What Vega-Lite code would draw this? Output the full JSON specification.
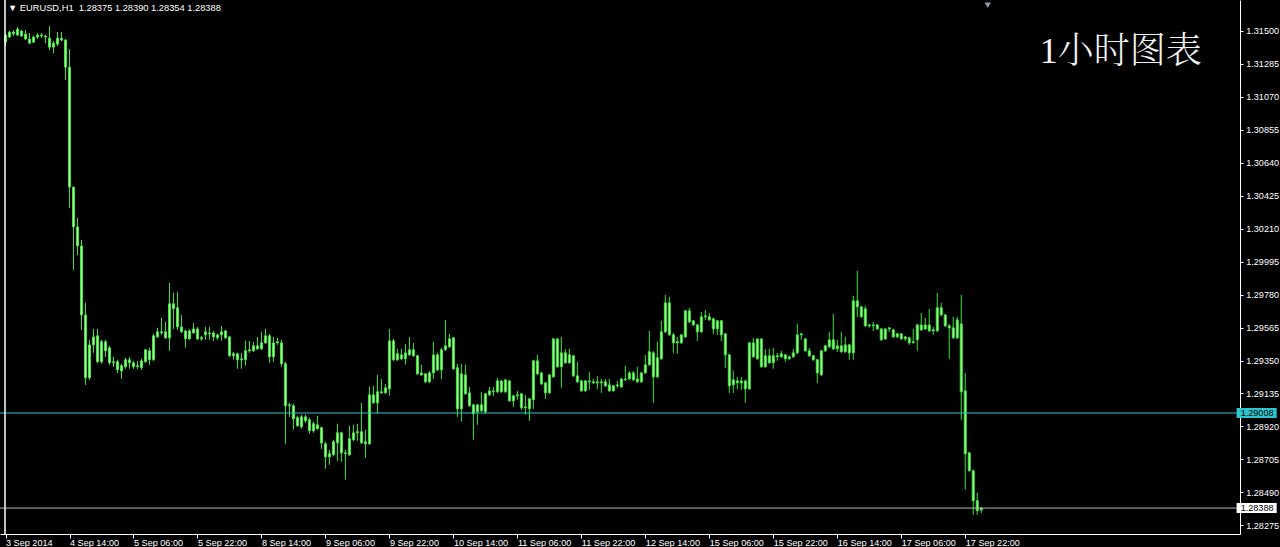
{
  "$schema": "https://vega.github.io/schema/vega-lite/v6.json",
  "width": 1240,
  "height": 534,
  "autosize": {"type": "none"},
  "padding": {"left": 0, "top": 0, "right": 45, "bottom": 18},
  "background": "#000000",
  "config": {"view": {"stroke": null}},
  "data": {"values": [
{"i":0,"t":"2014-09-03 22:00","o":1.31426,"h":1.31485,"l":1.31393,"c":1.31472},
{"i":1,"t":"2014-09-03 23:00","o":1.31459,"h":1.31498,"l":1.31452,"c":1.31492},
{"i":2,"t":"2014-09-04 00:00","o":1.31492,"h":1.31505,"l":1.31466,"c":1.31479},
{"i":3,"t":"2014-09-04 01:00","o":1.31472,"h":1.31524,"l":1.31466,"c":1.31511},
{"i":4,"t":"2014-09-04 02:00","o":1.31498,"h":1.31505,"l":1.31459,"c":1.31466},
{"i":5,"t":"2014-09-04 03:00","o":1.31479,"h":1.31505,"l":1.31439,"c":1.31446},
{"i":6,"t":"2014-09-04 04:00","o":1.31446,"h":1.31485,"l":1.31413,"c":1.31419},
{"i":7,"t":"2014-09-04 05:00","o":1.31426,"h":1.31466,"l":1.31419,"c":1.31459},
{"i":8,"t":"2014-09-04 06:00","o":1.31459,"h":1.31485,"l":1.31446,"c":1.31472},
{"i":9,"t":"2014-09-04 07:00","o":1.31472,"h":1.31485,"l":1.31452,"c":1.31466},
{"i":10,"t":"2014-09-04 08:00","o":1.31466,"h":1.31472,"l":1.31419,"c":1.31459},
{"i":11,"t":"2014-09-04 09:00","o":1.31452,"h":1.31531,"l":1.31374,"c":1.31393},
{"i":12,"t":"2014-09-04 10:00","o":1.31393,"h":1.31433,"l":1.31354,"c":1.31419},
{"i":13,"t":"2014-09-04 11:00","o":1.31413,"h":1.31492,"l":1.31400,"c":1.31452},
{"i":14,"t":"2014-09-04 12:00","o":1.31452,"h":1.31492,"l":1.31433,"c":1.31439},
{"i":15,"t":"2014-09-04 13:00","o":1.31439,"h":1.31446,"l":1.31179,"c":1.31263},
{"i":16,"t":"2014-09-04 14:00","o":1.31263,"h":1.31380,"l":1.30345,"c":1.30481},
{"i":17,"t":"2014-09-04 15:00","o":1.30481,"h":1.30481,"l":1.29941,"c":1.30221},
{"i":18,"t":"2014-09-04 16:00","o":1.30221,"h":1.30280,"l":1.30038,"c":1.30097},
{"i":19,"t":"2014-09-04 17:00","o":1.30097,"h":1.30136,"l":1.29550,"c":1.29647},
{"i":20,"t":"2014-09-04 18:00","o":1.29647,"h":1.29726,"l":1.29191,"c":1.29237},
{"i":21,"t":"2014-09-04 19:00","o":1.29237,"h":1.29485,"l":1.29224,"c":1.29452},
{"i":22,"t":"2014-09-04 20:00","o":1.29452,"h":1.29556,"l":1.29400,"c":1.29504},
{"i":23,"t":"2014-09-04 21:00","o":1.29511,"h":1.29556,"l":1.29335,"c":1.29342},
{"i":24,"t":"2014-09-04 22:00","o":1.29342,"h":1.29485,"l":1.29329,"c":1.29472},
{"i":25,"t":"2014-09-04 23:00","o":1.29472,"h":1.29485,"l":1.29374,"c":1.29413},
{"i":26,"t":"2014-09-05 00:00","o":1.29335,"h":1.29446,"l":1.29322,"c":1.29433},
{"i":27,"t":"2014-09-05 01:00","o":1.29342,"h":1.29374,"l":1.29309,"c":1.29335},
{"i":28,"t":"2014-09-05 02:00","o":1.29342,"h":1.29355,"l":1.29269,"c":1.29289},
{"i":29,"t":"2014-09-05 03:00","o":1.29282,"h":1.29329,"l":1.29230,"c":1.29316},
{"i":30,"t":"2014-09-05 04:00","o":1.29309,"h":1.29368,"l":1.29296,"c":1.29355},
{"i":31,"t":"2014-09-05 05:00","o":1.29355,"h":1.29374,"l":1.29296,"c":1.29335},
{"i":32,"t":"2014-09-05 06:00","o":1.29335,"h":1.29348,"l":1.29296,"c":1.29309},
{"i":33,"t":"2014-09-05 07:00","o":1.29309,"h":1.29348,"l":1.29296,"c":1.29316},
{"i":34,"t":"2014-09-05 08:00","o":1.29303,"h":1.29361,"l":1.29289,"c":1.29348},
{"i":35,"t":"2014-09-05 09:00","o":1.29342,"h":1.29426,"l":1.29335,"c":1.29420},
{"i":36,"t":"2014-09-05 10:00","o":1.29413,"h":1.29433,"l":1.29322,"c":1.29355},
{"i":37,"t":"2014-09-05 11:00","o":1.29355,"h":1.29524,"l":1.29348,"c":1.29511},
{"i":38,"t":"2014-09-05 12:00","o":1.29504,"h":1.29563,"l":1.29498,"c":1.29537},
{"i":39,"t":"2014-09-05 13:00","o":1.29537,"h":1.29628,"l":1.29517,"c":1.29530},
{"i":40,"t":"2014-09-05 14:00","o":1.29537,"h":1.29602,"l":1.29491,"c":1.29498},
{"i":41,"t":"2014-09-05 15:00","o":1.29498,"h":1.29856,"l":1.29413,"c":1.29720},
{"i":42,"t":"2014-09-05 16:00","o":1.29720,"h":1.29791,"l":1.29556,"c":1.29687},
{"i":43,"t":"2014-09-05 17:00","o":1.29694,"h":1.29798,"l":1.29550,"c":1.29569},
{"i":44,"t":"2014-09-05 18:00","o":1.29569,"h":1.29647,"l":1.29530,"c":1.29537},
{"i":45,"t":"2014-09-05 19:00","o":1.29543,"h":1.29550,"l":1.29433,"c":1.29491},
{"i":46,"t":"2014-09-05 20:00","o":1.29491,"h":1.29556,"l":1.29485,"c":1.29543},
{"i":47,"t":"2014-09-05 21:00","o":1.29530,"h":1.29595,"l":1.29524,"c":1.29556},
{"i":48,"t":"2014-09-05 22:00","o":1.29556,"h":1.29569,"l":1.29485,"c":1.29491},
{"i":49,"t":"2014-09-05 23:00","o":1.29491,"h":1.29511,"l":1.29478,"c":1.29498},
{"i":50,"t":"2014-09-08 00:00","o":1.29517,"h":1.29569,"l":1.29485,"c":1.29537},
{"i":51,"t":"2014-09-08 01:00","o":1.29530,"h":1.29569,"l":1.29485,"c":1.29524},
{"i":52,"t":"2014-09-08 02:00","o":1.29530,"h":1.29543,"l":1.29478,"c":1.29504},
{"i":53,"t":"2014-09-08 03:00","o":1.29498,"h":1.29524,"l":1.29485,"c":1.29517},
{"i":54,"t":"2014-09-08 04:00","o":1.29517,"h":1.29576,"l":1.29478,"c":1.29537},
{"i":55,"t":"2014-09-08 05:00","o":1.29543,"h":1.29550,"l":1.29491,"c":1.29498},
{"i":56,"t":"2014-09-08 06:00","o":1.29504,"h":1.29511,"l":1.29374,"c":1.29381},
{"i":57,"t":"2014-09-08 07:00","o":1.29381,"h":1.29407,"l":1.29355,"c":1.29394},
{"i":58,"t":"2014-09-08 08:00","o":1.29394,"h":1.29400,"l":1.29296,"c":1.29355},
{"i":59,"t":"2014-09-08 09:00","o":1.29355,"h":1.29400,"l":1.29296,"c":1.29361},
{"i":60,"t":"2014-09-08 10:00","o":1.29355,"h":1.29478,"l":1.29316,"c":1.29413},
{"i":61,"t":"2014-09-08 11:00","o":1.29413,"h":1.29478,"l":1.29400,"c":1.29420},
{"i":62,"t":"2014-09-08 12:00","o":1.29413,"h":1.29472,"l":1.29407,"c":1.29446},
{"i":63,"t":"2014-09-08 13:00","o":1.29426,"h":1.29504,"l":1.29420,"c":1.29446},
{"i":64,"t":"2014-09-08 14:00","o":1.29426,"h":1.29537,"l":1.29420,"c":1.29465},
{"i":65,"t":"2014-09-08 15:00","o":1.29465,"h":1.29556,"l":1.29459,"c":1.29511},
{"i":66,"t":"2014-09-08 16:00","o":1.29511,"h":1.29524,"l":1.29335,"c":1.29374},
{"i":67,"t":"2014-09-08 17:00","o":1.29374,"h":1.29504,"l":1.29342,"c":1.29465},
{"i":68,"t":"2014-09-08 18:00","o":1.29465,"h":1.29498,"l":1.29452,"c":1.29472},
{"i":69,"t":"2014-09-08 19:00","o":1.29465,"h":1.29485,"l":1.29309,"c":1.29329},
{"i":70,"t":"2014-09-08 20:00","o":1.29329,"h":1.29342,"l":1.28807,"c":1.29055},
{"i":71,"t":"2014-09-08 21:00","o":1.29055,"h":1.29074,"l":1.28983,"c":1.29061},
{"i":72,"t":"2014-09-08 22:00","o":1.29055,"h":1.29068,"l":1.28899,"c":1.28970},
{"i":73,"t":"2014-09-08 23:00","o":1.28977,"h":1.28990,"l":1.28918,"c":1.28925},
{"i":74,"t":"2014-09-09 00:00","o":1.28918,"h":1.28996,"l":1.28905,"c":1.28983},
{"i":75,"t":"2014-09-09 01:00","o":1.28983,"h":1.28996,"l":1.28944,"c":1.28957},
{"i":76,"t":"2014-09-09 02:00","o":1.28964,"h":1.28977,"l":1.28873,"c":1.28892},
{"i":77,"t":"2014-09-09 03:00","o":1.28892,"h":1.28951,"l":1.28879,"c":1.28938},
{"i":78,"t":"2014-09-09 04:00","o":1.28931,"h":1.28990,"l":1.28899,"c":1.28905},
{"i":79,"t":"2014-09-09 05:00","o":1.28912,"h":1.28918,"l":1.28774,"c":1.28813},
{"i":80,"t":"2014-09-09 06:00","o":1.28807,"h":1.28820,"l":1.28644,"c":1.28722},
{"i":81,"t":"2014-09-09 07:00","o":1.28722,"h":1.28768,"l":1.28670,"c":1.28742},
{"i":82,"t":"2014-09-09 08:00","o":1.28735,"h":1.28833,"l":1.28729,"c":1.28820},
{"i":83,"t":"2014-09-09 09:00","o":1.28813,"h":1.28938,"l":1.28696,"c":1.28879},
{"i":84,"t":"2014-09-09 10:00","o":1.28879,"h":1.28886,"l":1.28690,"c":1.28748},
{"i":85,"t":"2014-09-09 11:00","o":1.28748,"h":1.28768,"l":1.28573,"c":1.28742},
{"i":86,"t":"2014-09-09 12:00","o":1.28735,"h":1.28925,"l":1.28729,"c":1.28840},
{"i":87,"t":"2014-09-09 13:00","o":1.28833,"h":1.28931,"l":1.28827,"c":1.28879},
{"i":88,"t":"2014-09-09 14:00","o":1.28879,"h":1.28938,"l":1.28827,"c":1.28886},
{"i":89,"t":"2014-09-09 15:00","o":1.28886,"h":1.29074,"l":1.28807,"c":1.28813},
{"i":90,"t":"2014-09-09 16:00","o":1.28820,"h":1.28899,"l":1.28716,"c":1.28807},
{"i":91,"t":"2014-09-09 17:00","o":1.28807,"h":1.29178,"l":1.28800,"c":1.29126},
{"i":92,"t":"2014-09-09 18:00","o":1.29126,"h":1.29185,"l":1.29068,"c":1.29074},
{"i":93,"t":"2014-09-09 19:00","o":1.29074,"h":1.29256,"l":1.29003,"c":1.29146},
{"i":94,"t":"2014-09-09 20:00","o":1.29146,"h":1.29230,"l":1.29133,"c":1.29139},
{"i":95,"t":"2014-09-09 21:00","o":1.29139,"h":1.29198,"l":1.29133,"c":1.29172},
{"i":96,"t":"2014-09-09 22:00","o":1.29165,"h":1.29556,"l":1.29120,"c":1.29478},
{"i":97,"t":"2014-09-09 23:00","o":1.29478,"h":1.29491,"l":1.29348,"c":1.29355},
{"i":98,"t":"2014-09-10 00:00","o":1.29355,"h":1.29426,"l":1.29348,"c":1.29394},
{"i":99,"t":"2014-09-10 01:00","o":1.29387,"h":1.29426,"l":1.29355,"c":1.29361},
{"i":100,"t":"2014-09-10 02:00","o":1.29361,"h":1.29459,"l":1.29322,"c":1.29400},
{"i":101,"t":"2014-09-10 03:00","o":1.29387,"h":1.29504,"l":1.29381,"c":1.29420},
{"i":102,"t":"2014-09-10 04:00","o":1.29420,"h":1.29465,"l":1.29374,"c":1.29381},
{"i":103,"t":"2014-09-10 05:00","o":1.29381,"h":1.29387,"l":1.29256,"c":1.29263},
{"i":104,"t":"2014-09-10 06:00","o":1.29256,"h":1.29322,"l":1.29250,"c":1.29269},
{"i":105,"t":"2014-09-10 07:00","o":1.29263,"h":1.29269,"l":1.29204,"c":1.29211},
{"i":106,"t":"2014-09-10 08:00","o":1.29211,"h":1.29282,"l":1.29204,"c":1.29269},
{"i":107,"t":"2014-09-10 09:00","o":1.29269,"h":1.29472,"l":1.29230,"c":1.29387},
{"i":108,"t":"2014-09-10 10:00","o":1.29387,"h":1.29400,"l":1.29282,"c":1.29289},
{"i":109,"t":"2014-09-10 11:00","o":1.29289,"h":1.29433,"l":1.29230,"c":1.29420},
{"i":110,"t":"2014-09-10 12:00","o":1.29420,"h":1.29615,"l":1.29413,"c":1.29446},
{"i":111,"t":"2014-09-10 13:00","o":1.29439,"h":1.29524,"l":1.29433,"c":1.29491},
{"i":112,"t":"2014-09-10 14:00","o":1.29498,"h":1.29504,"l":1.29289,"c":1.29296},
{"i":113,"t":"2014-09-10 15:00","o":1.29303,"h":1.29329,"l":1.28983,"c":1.29035},
{"i":114,"t":"2014-09-10 16:00","o":1.29035,"h":1.29329,"l":1.28951,"c":1.29263},
{"i":115,"t":"2014-09-10 17:00","o":1.29256,"h":1.29322,"l":1.29126,"c":1.29133},
{"i":116,"t":"2014-09-10 18:00","o":1.29139,"h":1.29178,"l":1.29048,"c":1.29055},
{"i":117,"t":"2014-09-10 19:00","o":1.29061,"h":1.29068,"l":1.28833,"c":1.29003},
{"i":118,"t":"2014-09-10 20:00","o":1.29016,"h":1.29068,"l":1.28931,"c":1.29061},
{"i":119,"t":"2014-09-10 21:00","o":1.29061,"h":1.29146,"l":1.29016,"c":1.29022},
{"i":120,"t":"2014-09-10 22:00","o":1.29016,"h":1.29139,"l":1.29003,"c":1.29133},
{"i":121,"t":"2014-09-10 23:00","o":1.29126,"h":1.29178,"l":1.29120,"c":1.29152},
{"i":122,"t":"2014-09-11 00:00","o":1.29152,"h":1.29178,"l":1.29120,"c":1.29146},
{"i":123,"t":"2014-09-11 01:00","o":1.29146,"h":1.29237,"l":1.29139,"c":1.29217},
{"i":124,"t":"2014-09-11 02:00","o":1.29217,"h":1.29224,"l":1.29139,"c":1.29146},
{"i":125,"t":"2014-09-11 03:00","o":1.29146,"h":1.29230,"l":1.29139,"c":1.29224},
{"i":126,"t":"2014-09-11 04:00","o":1.29217,"h":1.29224,"l":1.29081,"c":1.29087},
{"i":127,"t":"2014-09-11 05:00","o":1.29087,"h":1.29126,"l":1.29048,"c":1.29120},
{"i":128,"t":"2014-09-11 06:00","o":1.29120,"h":1.29152,"l":1.29094,"c":1.29126},
{"i":129,"t":"2014-09-11 07:00","o":1.29133,"h":1.29139,"l":1.29029,"c":1.29042},
{"i":130,"t":"2014-09-11 08:00","o":1.29042,"h":1.29126,"l":1.28996,"c":1.29048},
{"i":131,"t":"2014-09-11 09:00","o":1.29035,"h":1.29107,"l":1.28957,"c":1.29100},
{"i":132,"t":"2014-09-11 10:00","o":1.29094,"h":1.29355,"l":1.29035,"c":1.29348},
{"i":133,"t":"2014-09-11 11:00","o":1.29348,"h":1.29387,"l":1.29256,"c":1.29263},
{"i":134,"t":"2014-09-11 12:00","o":1.29269,"h":1.29276,"l":1.29191,"c":1.29198},
{"i":135,"t":"2014-09-11 13:00","o":1.29204,"h":1.29211,"l":1.29100,"c":1.29139},
{"i":136,"t":"2014-09-11 14:00","o":1.29139,"h":1.29263,"l":1.29133,"c":1.29256},
{"i":137,"t":"2014-09-11 15:00","o":1.29243,"h":1.29498,"l":1.29237,"c":1.29491},
{"i":138,"t":"2014-09-11 16:00","o":1.29491,"h":1.29498,"l":1.29303,"c":1.29309},
{"i":139,"t":"2014-09-11 17:00","o":1.29309,"h":1.29504,"l":1.29172,"c":1.29400},
{"i":140,"t":"2014-09-11 18:00","o":1.29400,"h":1.29426,"l":1.29329,"c":1.29335},
{"i":141,"t":"2014-09-11 19:00","o":1.29335,"h":1.29426,"l":1.29329,"c":1.29387},
{"i":142,"t":"2014-09-11 20:00","o":1.29381,"h":1.29387,"l":1.29243,"c":1.29250},
{"i":143,"t":"2014-09-11 21:00","o":1.29250,"h":1.29342,"l":1.29204,"c":1.29211},
{"i":144,"t":"2014-09-11 22:00","o":1.29217,"h":1.29224,"l":1.29146,"c":1.29152},
{"i":145,"t":"2014-09-11 23:00","o":1.29152,"h":1.29224,"l":1.29146,"c":1.29217},
{"i":146,"t":"2014-09-12 00:00","o":1.29217,"h":1.29276,"l":1.29159,"c":1.29211},
{"i":147,"t":"2014-09-12 01:00","o":1.29211,"h":1.29230,"l":1.29198,"c":1.29204},
{"i":148,"t":"2014-09-12 02:00","o":1.29204,"h":1.29250,"l":1.29165,"c":1.29211},
{"i":149,"t":"2014-09-12 03:00","o":1.29211,"h":1.29230,"l":1.29139,"c":1.29204},
{"i":150,"t":"2014-09-12 04:00","o":1.29211,"h":1.29230,"l":1.29178,"c":1.29185},
{"i":151,"t":"2014-09-12 05:00","o":1.29191,"h":1.29230,"l":1.29146,"c":1.29152},
{"i":152,"t":"2014-09-12 06:00","o":1.29152,"h":1.29191,"l":1.29146,"c":1.29185},
{"i":153,"t":"2014-09-12 07:00","o":1.29185,"h":1.29217,"l":1.29172,"c":1.29191},
{"i":154,"t":"2014-09-12 08:00","o":1.29178,"h":1.29237,"l":1.29172,"c":1.29230},
{"i":155,"t":"2014-09-12 09:00","o":1.29230,"h":1.29316,"l":1.29217,"c":1.29224},
{"i":156,"t":"2014-09-12 10:00","o":1.29230,"h":1.29282,"l":1.29224,"c":1.29269},
{"i":157,"t":"2014-09-12 11:00","o":1.29269,"h":1.29282,"l":1.29217,"c":1.29224},
{"i":158,"t":"2014-09-12 12:00","o":1.29230,"h":1.29309,"l":1.29204,"c":1.29211},
{"i":159,"t":"2014-09-12 13:00","o":1.29211,"h":1.29276,"l":1.29204,"c":1.29269},
{"i":160,"t":"2014-09-12 14:00","o":1.29269,"h":1.29387,"l":1.29263,"c":1.29322},
{"i":161,"t":"2014-09-12 15:00","o":1.29322,"h":1.29543,"l":1.29316,"c":1.29407},
{"i":162,"t":"2014-09-12 16:00","o":1.29400,"h":1.29413,"l":1.29074,"c":1.29243},
{"i":163,"t":"2014-09-12 17:00","o":1.29243,"h":1.29472,"l":1.29237,"c":1.29368},
{"i":164,"t":"2014-09-12 18:00","o":1.29361,"h":1.29609,"l":1.29355,"c":1.29537},
{"i":165,"t":"2014-09-12 19:00","o":1.29537,"h":1.29778,"l":1.29530,"c":1.29726},
{"i":166,"t":"2014-09-12 20:00","o":1.29726,"h":1.29765,"l":1.29511,"c":1.29517},
{"i":167,"t":"2014-09-12 21:00","o":1.29517,"h":1.29530,"l":1.29400,"c":1.29465},
{"i":168,"t":"2014-09-12 22:00","o":1.29465,"h":1.29504,"l":1.29394,"c":1.29472},
{"i":169,"t":"2014-09-12 23:00","o":1.29465,"h":1.29524,"l":1.29459,"c":1.29517},
{"i":170,"t":"2014-09-15 00:00","o":1.29504,"h":1.29680,"l":1.29498,"c":1.29674},
{"i":171,"t":"2014-09-15 01:00","o":1.29674,"h":1.29694,"l":1.29595,"c":1.29602},
{"i":172,"t":"2014-09-15 02:00","o":1.29609,"h":1.29615,"l":1.29576,"c":1.29582},
{"i":173,"t":"2014-09-15 03:00","o":1.29582,"h":1.29589,"l":1.29478,"c":1.29537},
{"i":174,"t":"2014-09-15 04:00","o":1.29537,"h":1.29667,"l":1.29530,"c":1.29635},
{"i":175,"t":"2014-09-15 05:00","o":1.29635,"h":1.29680,"l":1.29615,"c":1.29641},
{"i":176,"t":"2014-09-15 06:00","o":1.29635,"h":1.29661,"l":1.29609,"c":1.29615},
{"i":177,"t":"2014-09-15 07:00","o":1.29622,"h":1.29628,"l":1.29524,"c":1.29556},
{"i":178,"t":"2014-09-15 08:00","o":1.29556,"h":1.29615,"l":1.29517,"c":1.29609},
{"i":179,"t":"2014-09-15 09:00","o":1.29609,"h":1.29615,"l":1.29478,"c":1.29517},
{"i":180,"t":"2014-09-15 10:00","o":1.29524,"h":1.29530,"l":1.29303,"c":1.29387},
{"i":181,"t":"2014-09-15 11:00","o":1.29387,"h":1.29394,"l":1.29139,"c":1.29185},
{"i":182,"t":"2014-09-15 12:00","o":1.29191,"h":1.29282,"l":1.29139,"c":1.29224},
{"i":183,"t":"2014-09-15 13:00","o":1.29217,"h":1.29243,"l":1.29165,"c":1.29204},
{"i":184,"t":"2014-09-15 14:00","o":1.29204,"h":1.29243,"l":1.29159,"c":1.29217},
{"i":185,"t":"2014-09-15 15:00","o":1.29217,"h":1.29224,"l":1.29074,"c":1.29165},
{"i":186,"t":"2014-09-15 16:00","o":1.29165,"h":1.29472,"l":1.29159,"c":1.29465},
{"i":187,"t":"2014-09-15 17:00","o":1.29465,"h":1.29498,"l":1.29368,"c":1.29374},
{"i":188,"t":"2014-09-15 18:00","o":1.29361,"h":1.29491,"l":1.29355,"c":1.29491},
{"i":189,"t":"2014-09-15 19:00","o":1.29491,"h":1.29491,"l":1.29303,"c":1.29309},
{"i":190,"t":"2014-09-15 20:00","o":1.29309,"h":1.29426,"l":1.29303,"c":1.29381},
{"i":191,"t":"2014-09-15 21:00","o":1.29381,"h":1.29426,"l":1.29329,"c":1.29335},
{"i":192,"t":"2014-09-15 22:00","o":1.29335,"h":1.29433,"l":1.29296,"c":1.29381},
{"i":193,"t":"2014-09-15 23:00","o":1.29381,"h":1.29400,"l":1.29348,"c":1.29374},
{"i":194,"t":"2014-09-16 00:00","o":1.29374,"h":1.29413,"l":1.29368,"c":1.29394},
{"i":195,"t":"2014-09-16 01:00","o":1.29387,"h":1.29394,"l":1.29342,"c":1.29361},
{"i":196,"t":"2014-09-16 02:00","o":1.29361,"h":1.29381,"l":1.29355,"c":1.29374},
{"i":197,"t":"2014-09-16 03:00","o":1.29374,"h":1.29426,"l":1.29368,"c":1.29400},
{"i":198,"t":"2014-09-16 04:00","o":1.29400,"h":1.29589,"l":1.29394,"c":1.29517},
{"i":199,"t":"2014-09-16 05:00","o":1.29517,"h":1.29530,"l":1.29485,"c":1.29524},
{"i":200,"t":"2014-09-16 06:00","o":1.29491,"h":1.29498,"l":1.29407,"c":1.29413},
{"i":201,"t":"2014-09-16 07:00","o":1.29413,"h":1.29433,"l":1.29374,"c":1.29381},
{"i":202,"t":"2014-09-16 08:00","o":1.29381,"h":1.29387,"l":1.29348,"c":1.29355},
{"i":203,"t":"2014-09-16 09:00","o":1.29355,"h":1.29361,"l":1.29204,"c":1.29269},
{"i":204,"t":"2014-09-16 10:00","o":1.29256,"h":1.29420,"l":1.29250,"c":1.29413},
{"i":205,"t":"2014-09-16 11:00","o":1.29413,"h":1.29452,"l":1.29407,"c":1.29446},
{"i":206,"t":"2014-09-16 12:00","o":1.29439,"h":1.29537,"l":1.29433,"c":1.29485},
{"i":207,"t":"2014-09-16 13:00","o":1.29485,"h":1.29654,"l":1.29420,"c":1.29426},
{"i":208,"t":"2014-09-16 14:00","o":1.29426,"h":1.29485,"l":1.29407,"c":1.29446},
{"i":209,"t":"2014-09-16 15:00","o":1.29446,"h":1.29537,"l":1.29400,"c":1.29407},
{"i":210,"t":"2014-09-16 16:00","o":1.29407,"h":1.29504,"l":1.29400,"c":1.29452},
{"i":211,"t":"2014-09-16 17:00","o":1.29452,"h":1.29459,"l":1.29355,"c":1.29400},
{"i":212,"t":"2014-09-16 18:00","o":1.29400,"h":1.29772,"l":1.29355,"c":1.29739},
{"i":213,"t":"2014-09-16 19:00","o":1.29739,"h":1.29935,"l":1.29635,"c":1.29700},
{"i":214,"t":"2014-09-16 20:00","o":1.29700,"h":1.29707,"l":1.29628,"c":1.29635},
{"i":215,"t":"2014-09-16 21:00","o":1.29687,"h":1.29707,"l":1.29569,"c":1.29576},
{"i":216,"t":"2014-09-16 22:00","o":1.29576,"h":1.29589,"l":1.29563,"c":1.29582},
{"i":217,"t":"2014-09-16 23:00","o":1.29582,"h":1.29602,"l":1.29543,"c":1.29576},
{"i":218,"t":"2014-09-17 00:00","o":1.29582,"h":1.29589,"l":1.29550,"c":1.29556},
{"i":219,"t":"2014-09-17 01:00","o":1.29556,"h":1.29563,"l":1.29478,"c":1.29485},
{"i":220,"t":"2014-09-17 02:00","o":1.29491,"h":1.29563,"l":1.29485,"c":1.29556},
{"i":221,"t":"2014-09-17 03:00","o":1.29556,"h":1.29569,"l":1.29537,"c":1.29563},
{"i":222,"t":"2014-09-17 04:00","o":1.29550,"h":1.29556,"l":1.29498,"c":1.29504},
{"i":223,"t":"2014-09-17 05:00","o":1.29504,"h":1.29530,"l":1.29498,"c":1.29524},
{"i":224,"t":"2014-09-17 06:00","o":1.29524,"h":1.29530,"l":1.29485,"c":1.29491},
{"i":225,"t":"2014-09-17 07:00","o":1.29491,"h":1.29511,"l":1.29478,"c":1.29504},
{"i":226,"t":"2014-09-17 08:00","o":1.29498,"h":1.29504,"l":1.29452,"c":1.29465},
{"i":227,"t":"2014-09-17 09:00","o":1.29465,"h":1.29556,"l":1.29465,"c":1.29472},
{"i":228,"t":"2014-09-17 10:00","o":1.29485,"h":1.29589,"l":1.29413,"c":1.29582},
{"i":229,"t":"2014-09-17 11:00","o":1.29582,"h":1.29661,"l":1.29543,"c":1.29550},
{"i":230,"t":"2014-09-17 12:00","o":1.29556,"h":1.29628,"l":1.29550,"c":1.29582},
{"i":231,"t":"2014-09-17 13:00","o":1.29582,"h":1.29687,"l":1.29537,"c":1.29543},
{"i":232,"t":"2014-09-17 14:00","o":1.29543,"h":1.29569,"l":1.29517,"c":1.29550},
{"i":233,"t":"2014-09-17 15:00","o":1.29543,"h":1.29791,"l":1.29537,"c":1.29694},
{"i":234,"t":"2014-09-17 16:00","o":1.29694,"h":1.29726,"l":1.29641,"c":1.29647},
{"i":235,"t":"2014-09-17 17:00","o":1.29647,"h":1.29654,"l":1.29569,"c":1.29576},
{"i":236,"t":"2014-09-17 18:00","o":1.29576,"h":1.29589,"l":1.29361,"c":1.29563},
{"i":237,"t":"2014-09-17 19:00","o":1.29563,"h":1.29635,"l":1.29491,"c":1.29498},
{"i":238,"t":"2014-09-17 20:00","o":1.29498,"h":1.29635,"l":1.29491,"c":1.29615},
{"i":239,"t":"2014-09-17 21:00","o":1.29589,"h":1.29778,"l":1.28964,"c":1.29146},
{"i":240,"t":"2014-09-17 22:00","o":1.29152,"h":1.29269,"l":1.28508,"c":1.28742},
{"i":241,"t":"2014-09-17 23:00","o":1.28748,"h":1.28755,"l":1.28625,"c":1.28631},
{"i":242,"t":"2014-09-18 00:00","o":1.28631,"h":1.28638,"l":1.28344,"c":1.28436},
{"i":243,"t":"2014-09-18 01:00","o":1.28436,"h":1.28488,"l":1.28344,"c":1.28371},
{"i":244,"t":"2014-09-18 02:00","o":1.28375,"h":1.28390,"l":1.28354,"c":1.28388}
  ]},
  "layer": [
    {
      "mark": {"type": "rule", "color": "#3ee23e", "strokeWidth": 1},
      "encoding": {
        "x": {"field": "i", "type": "quantitative", "title": null,
          "scale": {"domain": [-0.1347, 307.462], "nice": false, "zero": false},
          "axis": {"values": [0,16,32,48,64,80,96,112,128,144,160,176,192,208,224,240], "tickCount": 60,
            "labelExpr": "['3 Sep 2014','4 Sep 14:00','5 Sep 06:00','5 Sep 22:00','8 Sep 14:00','9 Sep 06:00','9 Sep 22:00','10 Sep 14:00','11 Sep 06:00','11 Sep 22:00','12 Sep 14:00','15 Sep 06:00','15 Sep 22:00','16 Sep 14:00','17 Sep 06:00','17 Sep 22:00'][round(datum.value/16)]",
            "labelAlign": "left", "labelBaseline": "top", "labelColor": "#ffffff",
            "labelFont": "Liberation Sans", "labelFontSize": 9.1, "labelPadding": 0.5,
            "tickColor": "#ffffff", "tickSize": 4, "domainColor": "#ffffff",
            "grid": false, "title": null, "labelOverlap": false, "labelFlush": false, "labelBound": false}},
        "y": {"field": "l", "type": "quantitative", "title": null,
          "scale": {"domain": [1.282515, 1.31668], "nice": false, "zero": false},
          "axis": {"orient": "right", "tickCount": 60,
            "values": [1.28275,1.2849,1.28705,1.2892,1.29135,1.2935,1.29565,1.2978,1.29995,1.3021,1.30425,1.3064,1.30855,1.3107,1.31285,1.315],
            "format": ".5f", "labelColor": "#ffffff", "labelFont": "Liberation Sans", "labelFontSize": 9.1,
            "labelPadding": 2.7, "tickColor": "#ffffff", "tickSize": 3, "domainColor": "#ffffff",
            "grid": false, "title": null, "labelOverlap": false, "labelFlush": false, "labelBound": false}},
        "y2": {"field": "h"}
      }
    },
    {
      "mark": {"type": "bar", "orient": "vertical", "size": 2, "fill": "#a4ff94", "stroke": "#3ee23e", "strokeWidth": 1},
      "encoding": {
        "x": {"field": "i", "type": "quantitative", "title": null},
        "y": {"field": "o", "type": "quantitative", "title": null},
        "y2": {"field": "c"}
      }
    },
    {
      "data": {"values": [{"level": "line", "price": 1.29008, "tag": "1.29008"}, {"level": "bid", "price": 1.28388, "tag": "1.28388"}]},
      "layer": [
        {
          "mark": {"type": "rule", "strokeWidth": 1},
          "encoding": {
            "y": {"field": "price", "type": "quantitative", "title": null},
            "color": {"field": "level", "type": "nominal", "scale": {"domain": ["line", "bid"], "range": ["#2ec6cc", "#b4b4b4"]}, "legend": null}
          }
        },
        {
          "mark": {"type": "bar", "orient": "horizontal", "size": 10},
          "encoding": {
            "x": {"datum": 307.86, "type": "quantitative"},
            "x2": {"datum": 317.88},
            "y": {"field": "price", "type": "quantitative", "title": null},
            "fill": {"field": "level", "type": "nominal", "scale": {"domain": ["line", "bid"], "range": ["#2ec6cc", "#ffffff"]}, "legend": null}
          }
        },
        {
          "mark": {"type": "text", "align": "left", "baseline": "middle", "font": "Liberation Sans", "fontSize": 9.1, "color": "#000000"},
          "encoding": {
            "x": {"datum": 308.88, "type": "quantitative"},
            "y": {"field": "price", "type": "quantitative", "title": null},
            "text": {"field": "tag"}
          }
        }
      ]
    },
    {
      "data": {"values": [{"label": "▼ EURUSD,H1\u00a0 1.28375 1.28390 1.28354 1.28388"}]},
      "mark": {"type": "text", "align": "left", "baseline": "middle", "font": "Liberation Sans, DejaVu Sans", "fontSize": 9.3, "color": "#ffffff"},
      "encoding": {
        "x": {"datum": 0.625, "type": "quantitative"},
        "y": {"datum": 1.31651, "type": "quantitative"},
        "text": {"field": "label"}
      }
    },
    {
      "data": {"values": [{"label": "1小时图表"}]},
      "mark": {"type": "text", "align": "left", "baseline": "middle", "font": "Liberation Serif, Noto Serif CJK SC, Noto Sans CJK SC", "fontSize": 36, "fontWeight": 300, "color": "#f2f2f2"},
      "encoding": {
        "x": {"datum": 258.62, "type": "quantitative"},
        "y": {"datum": 1.31361, "type": "quantitative"},
        "text": {"field": "label"}
      }
    },
    {
      "data": {"values": [{"edge": "left"}]},
      "mark": {"type": "rule", "color": "#ffffff", "strokeWidth": 1.5},
      "encoding": {"x": {"datum": -0.1347, "type": "quantitative"}}
    },
    {
      "data": {"values": [{"marker": "shift"}]},
      "mark": {"type": "point", "shape": "triangle-down", "filled": true, "size": 40, "color": "#8a9bb4", "opacity": 1},
      "encoding": {
        "x": {"datum": 245.63, "type": "quantitative"},
        "y": {"datum": 1.31667, "type": "quantitative"}
      }
    }
  ]
}
